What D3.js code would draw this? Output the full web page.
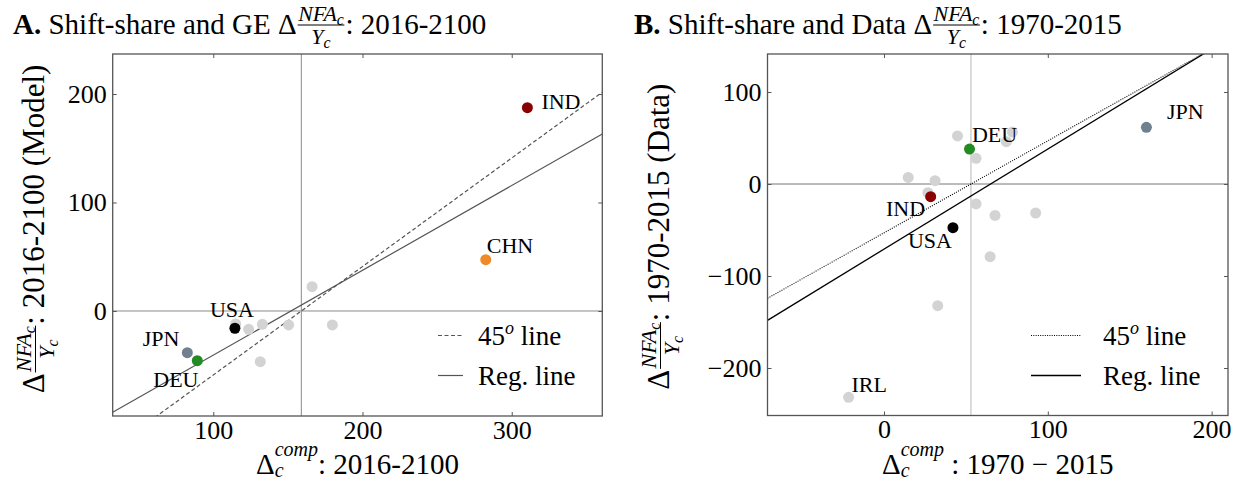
<!DOCTYPE html>
<html>
<head>
<meta charset="utf-8">
<script src="https://cdn.jsdelivr.net/npm/d3@7"></script>
<style>
  body { margin: 0; background: #fff; }
  svg text { font-family: "Liberation Serif", "Times New Roman", serif; fill: #000; white-space: pre; }
</style>
</head>
<body>
<svg id="chart" width="1245" height="482"></svg>
<script>
// Panel A: shift-share prediction vs. GE model change in NFA/Y, 2016-2100
const countriesA = ["IND", "CHN", "USA", "JPN", "DEU"];
const shiftShareA = [310.5, 282.6, 114.5, 82.6, 89.3];
const modelA = [187.4, 47.3, -15.9, -38.4, -45.8];
const otherShiftShareA = [166.2, 115.0, 123.7, 132.9, 150.5, 179.8, 131.5];
const otherModelA = [22.4, -12.0, -16.9, -12.3, -12.9, -12.9, -46.7];

// Panel B: shift-share prediction vs. observed change in NFA/Y, 1970-2015
const countriesB = ["JPN", "DEU", "IND", "USA", "IRL"];
const shiftShareB = [160.2, 52.2, 28.5, 42.1, -21.6];
const dataB = [61.6, 38.0, -13.8, -47.5, -231.9];
const otherShiftShareB = [44.9, 56.2, 74.7, 78.4, 14.8, 31.2, 26.8, 56.2, 67.8, 92.6, 64.8, 32.8];
const otherDataB = [52.2, 27.9, 46.0, 56.5, 7.2, 3.6, -9.4, -21.7, -34.1, -31.5, -79.0, -132.2];

// Fitted regression lines and the mean shift-share value (vertical reference)
const regA = { slope: 0.782, intercept: -118.9 };
const meanShiftA = 159;
const regB = { slope: 1.088, intercept: -70.8 };
const meanShiftB = 53.1;

// Tick values
const xTicksA = [100, 200, 300];
const yTicksA = [0, 100, 200];
const xTicksB = [0, 100, 200];
const yTicksB = [-200, -100, 0, 100];

const countryColor = {
  IND: "#8b0000", CHN: "#ef8a26", USA: "#000000",
  JPN: "#708090", DEU: "#228b22", IRL: "#d3d3d3"
};
const otherColor = "#d3d3d3";

const svg = d3.select("#chart");

// ---- small helper for text with fractions, sub- and superscripts ----
function runText(g, item, x, y, base) {
  return g.append("text")
    .attr("x", x)
    .attr("y", y + (item.dy || 0))
    .attr("font-size", item.fs || base)
    .attr("font-style", item.it ? "italic" : null)
    .attr("font-weight", item.bold ? "bold" : null)
    .text(item.t);
}

function placeRuns(g, items, x0, y0, base) {
  let x = x0;
  for (const it of items) {
    if (it.frac) {
      const fg = g.append("g");
      const ng = fg.append("g"), dg = fg.append("g");
      const wn = placeRuns(ng, it.num, 0, it.numY, it.fs);
      const wd = placeRuns(dg, it.den, 0, it.denY, it.fs);
      const fw = Math.max(wn, wd) + 2 * it.pad;
      ng.attr("transform", `translate(${x + (fw - wn) / 2},${y0})`);
      dg.attr("transform", `translate(${x + (fw - wd) / 2},${y0})`);
      fg.append("line")
        .attr("x1", x + 1).attr("x2", x + fw - 1)
        .attr("y1", y0 + it.barY).attr("y2", y0 + it.barY)
        .attr("stroke", "#000").attr("stroke-width", 1);
      x += fw;
    } else if (it.script) {
      const a = runText(g, { t: it.sup, it: true, fs: it.fs, dy: it.supDy }, x, y0, base).node().getComputedTextLength();
      const b = runText(g, { t: it.sub, it: true, fs: it.fs, dy: it.subDy }, x, y0, base).node().getComputedTextLength();
      x += Math.max(a, b);
    } else {
      x += runText(g, it, x, y0, base).node().getComputedTextLength();
    }
  }
  return x - x0;
}

function richLabel(parent, items, base, opt) {
  const outer = parent.append("g")
    .attr("transform", `translate(${opt.x},${opt.y}) rotate(${opt.rotate || 0})`);
  const inner = outer.append("g");
  const w = placeRuns(inner, items, 0, 0, base);
  if (opt.anchor === "middle") inner.attr("transform", `translate(${-w / 2},0)`);
  return w;
}

const nfaFrac = (fs, numY, denY, barY) => ({
  frac: true, fs, numY, denY, barY, pad: 1.5,
  num: [{ t: "NFA", it: true }, { t: "c", it: true, fs: fs * 0.72, dy: 4 }],
  den: [{ t: "Y", it: true }, { t: "c", it: true, fs: fs * 0.72, dy: 4 }]
});

// ---- panel drawing ----
function drawPanel(p) {
  const x = d3.scaleLinear().domain(p.xDomain).range([p.left, p.right]);
  const y = d3.scaleLinear().domain(p.yDomain).range([p.bottom, p.top]);
  const g = svg.append("g");

  g.append("clipPath").attr("id", p.id + "-clip")
    .append("rect")
    .attr("x", p.left).attr("y", p.top)
    .attr("width", p.right - p.left).attr("height", p.bottom - p.top);
  const plot = g.append("g").attr("clip-path", `url(#${p.id}-clip)`);

  // reference cross at the mean shift-share value and zero
  plot.append("line")
    .attr("x1", x(p.meanShift)).attr("x2", x(p.meanShift))
    .attr("y1", p.top).attr("y2", p.bottom)
    .attr("stroke", p.vColor).attr("stroke-width", 1);
  plot.append("line")
    .attr("x1", p.left).attr("x2", p.right)
    .attr("y1", y(0)).attr("y2", y(0))
    .attr("stroke", p.hColor).attr("stroke-width", 1);

  const line = d3.line().x(d => x(d[0])).y(d => y(d[1]));
  // 45-degree line through the reference cross
  plot.append("path")
    .attr("d", line(p.xDomain.map(v => [v, v - p.meanShift])))
    .attr("fill", "none").attr("stroke", p.lineColor)
    .attr("stroke-width", p.diagWidth).attr("stroke-dasharray", p.diagDash);
  // regression line
  plot.append("path")
    .attr("d", line(p.xDomain.map(v => [v, p.reg.slope * v + p.reg.intercept])))
    .attr("fill", "none").attr("stroke", p.lineColor).attr("stroke-width", p.regWidth);

  // remaining countries
  plot.selectAll("circle.other")
    .data(d3.zip(p.otherX, p.otherY))
    .join("circle").attr("class", "other")
    .attr("cx", d => x(d[0])).attr("cy", d => y(d[1])).attr("r", 5.5)
    .attr("fill", otherColor);

  // highlighted countries
  const hi = p.countries.map((c, i) => ({ c, vx: p.hx[i], vy: p.hy[i] }));
  plot.selectAll("circle.hi")
    .data(hi)
    .join("circle").attr("class", "hi")
    .attr("cx", d => x(d.vx)).attr("cy", d => y(d.vy)).attr("r", 5.5)
    .attr("fill", d => countryColor[d.c]);
  g.selectAll("text.country")
    .data(hi)
    .join("text").attr("class", "country")
    .attr("x", d => x(d.vx) + p.labelOffset[d.c][0])
    .attr("y", d => y(d.vy) + p.labelOffset[d.c][1])
    .attr("font-size", 22)
    .text(d => d.c);

  // axes: ticks point inward on all four sides
  const fmt = d3.format("d");
  const styleAxis = sel => {
    sel.select(".domain").remove();
    sel.selectAll(".tick line").attr("stroke", p.frameColor).attr("stroke-width", 1);
    sel.attr("font-family", null).attr("font-size", null);
    sel.selectAll("text").attr("font-size", 26).attr("fill", "#000");
  };
  g.append("g").attr("transform", `translate(0,${p.bottom})`)
    .call(d3.axisBottom(x).tickValues(p.xTicks).tickSize(-4).tickSizeOuter(0).tickPadding(4.5).tickFormat(fmt))
    .call(styleAxis);
  g.append("g").attr("transform", `translate(0,${p.top})`)
    .call(d3.axisTop(x).tickValues(p.xTicks).tickSize(-4).tickSizeOuter(0).tickFormat(""))
    .call(styleAxis);
  g.append("g").attr("transform", `translate(${p.left},0)`)
    .call(d3.axisLeft(y).tickValues(p.yTicks).tickSize(-4).tickSizeOuter(0).tickPadding(6).tickFormat(fmt))
    .call(styleAxis);
  g.append("g").attr("transform", `translate(${p.right},0)`)
    .call(d3.axisRight(y).tickValues(p.yTicks).tickSize(-4).tickSizeOuter(0).tickFormat(""))
    .call(styleAxis);

  // frame
  g.append("rect")
    .attr("x", p.left).attr("y", p.top)
    .attr("width", p.right - p.left).attr("height", p.bottom - p.top)
    .attr("fill", "none").attr("stroke", p.frameColor).attr("stroke-width", 1.3);

  // legend
  const lg = g.append("g");
  const rows = [
    { dash: p.diagDash, w: p.diagWidth, items: [{ t: "45" }, { t: "o", it: true, fs: 18, dy: -11 }, { t: " line" }] },
    { dash: null, w: p.regWidth, items: [{ t: "Reg. line" }] }
  ];
  rows.forEach((r, i) => {
    const ly = p.legendY + i * 40;
    lg.append("line")
      .attr("x1", p.legendX).attr("x2", p.legendX + p.handleLen)
      .attr("y1", ly - 9.5).attr("y2", ly - 9.5)
      .attr("stroke", p.lineColor).attr("stroke-width", r.w)
      .attr("stroke-dasharray", r.dash);
    richLabel(lg, r.items, 27, { x: p.legendX + p.handleLen + p.textGap, y: ly, anchor: "start" });
  });

  // axis titles
  richLabel(svg, p.xLabel, 29, { x: (p.left + p.right) / 2, y: 473.5, anchor: "middle" });
  richLabel(svg, p.yLabel, 31, { x: p.yLabelX, y: p.yLabelY, rotate: -90, anchor: "middle" });
  richLabel(svg, p.title, 29, { x: p.titleX, y: 33.5, anchor: "start" });
}

const compScript = { script: true, sub: "c", sup: "comp", fs: 20, subDy: 3, supDy: -18 };

drawPanel({
  id: "a",
  left: 112.7, right: 602.3, top: 54, bottom: 416,
  xDomain: [32.6, 360.7], yDomain: [-96.8, 236.9],
  xTicks: xTicksA, yTicks: yTicksA,
  meanShift: meanShiftA, reg: regA,
  countries: countriesA, hx: shiftShareA, hy: modelA,
  otherX: otherShiftShareA, otherY: otherModelA,
  vColor: "#8a8a8a", hColor: "#8a8a8a", lineColor: "#555555", frameColor: "#555555",
  diagDash: "4,2.5", diagWidth: 1.2, regWidth: 1.2,
  labelOffset: { IND: [14, 1], CHN: [1, -7], USA: [-25, -11.6], JPN: [-44.6, -6.7], DEU: [-44, 26] },
  legendX: 438, legendY: 345, handleLen: 25, textGap: 15,
  title: [{ t: "A.", bold: true }, { t: " Shift-share and GE Δ" }, nfaFrac(22, -13, 10, -8.5), { t: ": 2016-2100" }],
  titleX: 13,
  xLabel: [{ t: "Δ" }, compScript, { t: ": 2016-2100" }],
  yLabel: [{ t: "Δ" }, nfaFrac(22, -13, 10, -8.5), { t: ": 2016-2100 (Model)" }],
  yLabelX: 44, yLabelY: 229
});

drawPanel({
  id: "b",
  left: 767.5, right: 1228, top: 54, bottom: 415.5,
  xDomain: [-71.1, 210.0], yDomain: [-251.6, 141.3],
  xTicks: xTicksB, yTicks: yTicksB,
  meanShift: meanShiftB, reg: regB,
  countries: countriesB, hx: shiftShareB, hy: dataB,
  otherX: otherShiftShareB, otherY: otherDataB,
  vColor: "#b8b8b8", hColor: "#777777", lineColor: "#000000", frameColor: "#555555",
  diagDash: "1,1.3", diagWidth: 1.1, regWidth: 1.3,
  labelOffset: { JPN: [20.6, -8.3], DEU: [2.5, -7.3], IND: [-44.7, 19.3], USA: [-45, 20.6], IRL: [2.8, -5.6] },
  legendX: 1031, legendY: 345, handleLen: 50, textGap: 22,
  title: [{ t: "B.", bold: true }, { t: " Shift-share and Data Δ" }, nfaFrac(22, -13, 10, -8.5), { t: ": 1970-2015" }],
  titleX: 634,
  xLabel: [{ t: "Δ" }, compScript, { t: " : 1970 − 2015" }],
  yLabel: [{ t: "Δ" }, nfaFrac(22, -13, 10, -8.5), { t: ": 1970-2015 (Data)" }],
  yLabelX: 669, yLabelY: 236.7
});
</script>
</body>
</html>
